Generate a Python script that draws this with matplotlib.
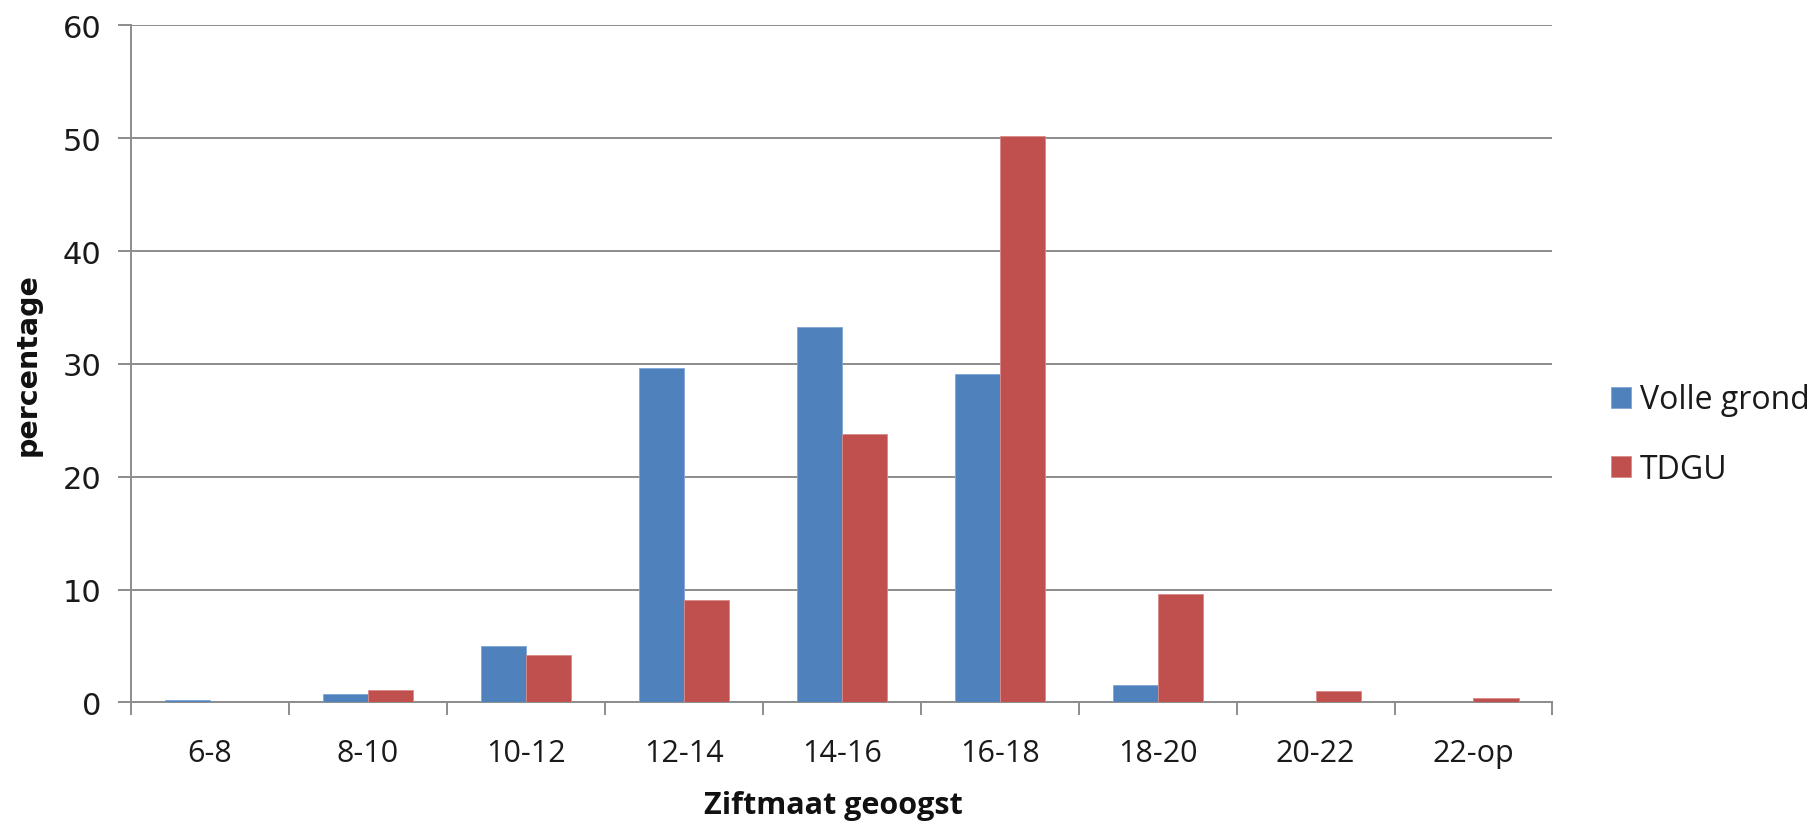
import matplotlib
matplotlib.use("Agg")
import matplotlib.pyplot as plt
import numpy as np
from matplotlib.ticker import FixedLocator

categories = ["6-8", "8-10", "10-12", "12-14", "14-16", "16-18", "18-20", "20-22", "22-op"]
volle_grond = [0.2, 0.7, 5.0, 29.6, 33.3, 29.1, 1.5, 0.0, 0.0]
tdgu = [0.0, 1.1, 4.2, 9.1, 23.8, 50.2, 9.6, 1.0, 0.4]
series_names = ["Volle grond", "TDGU"]
y_ticks = [0, 10, 20, 30, 40, 50, 60]

blue = "#4F81BD"
red = "#C0504D"
grid_gray = "#8C8C8C"
text_col = "#1a1a1a"

fig = plt.figure(figsize=(18.2, 8.28), dpi=100)
ax = fig.add_axes([0.072, 0.1505, 0.781, 0.8175])

x = np.arange(len(categories))
w = 0.285
ax.bar(x - w / 2, volle_grond, width=w, color=blue, edgecolor="#7FA6D6", linewidth=0.6,
       label=series_names[0], zorder=3)
ax.bar(x + w / 2, tdgu, width=w, color=red, edgecolor="#D98A88", linewidth=0.6,
       label=series_names[1], zorder=3)

ax.set_xlim(-0.5, len(categories) - 0.5)
ax.set_ylim(0, 60)

# horizontal gridlines
ax.set_yticks(y_ticks)
ax.yaxis.grid(True, color=grid_gray, linewidth=1.4, zorder=0)
ax.set_axisbelow(True)

for side in ["top", "right"]:
    ax.spines[side].set_visible(False)
for side in ["left", "bottom"]:
    ax.spines[side].set_color(grid_gray)
    ax.spines[side].set_linewidth(1.4)

ax.tick_params(axis="y", length=9.4, width=1.4, color=grid_gray, pad=12, labelsize=22,
               labelcolor=text_col)
for lbl in ax.get_yticklabels():
    lbl.set_family("DejaVu Sans")

# category labels at centres, tick marks at category boundaries
ax.set_xticks(x)
ax.set_xticklabels(categories, family="Open Sans", fontsize=22, color=text_col)
ax.tick_params(axis="x", which="major", length=0, pad=26)
ax.xaxis.set_minor_locator(FixedLocator(np.arange(-0.5, len(categories), 1.0)))
ax.tick_params(axis="x", which="minor", length=9.4, width=1.4, color=grid_gray)

ax.set_xlabel("Ziftmaat geoogst", family="Open Sans", fontweight="bold", fontsize=22,
              color="#111111")
ax.xaxis.label.set_va("center")
ax.xaxis.set_label_coords(0.494, -0.152)

ax.set_ylabel("percentage", family=["Liberation Sans Narrow", "DejaVu Sans"],
              fontweight="bold", fontsize=20.5, color="#111111")
ax.yaxis.label.set_va("center")
ax.yaxis.set_label_coords(-0.0725, 0.501)

leg = fig.legend(loc="center left", bbox_to_anchor=(0.885, 0.474), frameon=False,
                 prop={"family": "Open Sans", "size": 23}, handlelength=0.63,
                 handleheight=0.63, handletextpad=0.28, labelspacing=1.14,
                 borderaxespad=0, borderpad=0)
for t in leg.get_texts():
    t.set_color(text_col)

fig.savefig("out.png", dpi=100, facecolor="white")
